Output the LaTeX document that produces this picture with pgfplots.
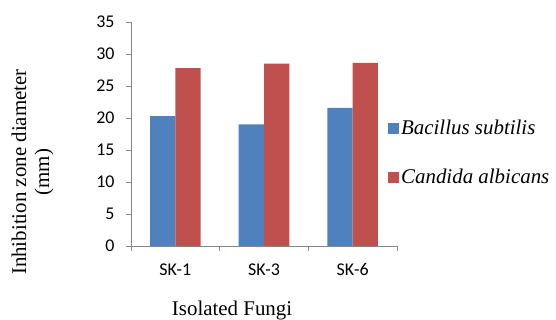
\documentclass[border=0pt]{standalone}
\usepackage{pgfplots}
\pgfplotsset{compat=1.18}
\usepackage{fontspec}
\IfFontExistsTF{Liberation Serif}{\def\diag{black}}{\def\diag{red}}
\setmainfont{Liberation Serif}
\newfontfamily\tnr{Liberation Serif}
\newfontfamily\carlito{Carlito}
\definecolor{cblue}{HTML}{4F81BD}
\definecolor{cred}{HTML}{C0504D}
\definecolor{axgray}{HTML}{868686}
\begin{document}
\begin{tikzpicture}
\path[use as bounding box] (0,0) rectangle (556bp,320bp);
\begin{axis}[
  at={(131bp,74bp)}, anchor=south west,
  scale only axis, width=266bp, height=224bp,
  xmin=-0.5, xmax=2.5, ymin=0, ymax=35,
  axis lines*=left,
  axis line style={draw=axgray, line width=0.9pt},
  every tick/.style={draw=axgray, line width=0.9pt},
  tick align=outside, major tick length=5bp,
  ytick={0,5,...,35},
  xtick={-0.5,0.5,1.5,2.5}, xticklabels={},
  extra x ticks={0,1,2}, extra x tick labels={SK-1,SK-3,SK-6},
  extra x tick style={major tick length=0pt},
  /pgf/number format/assume math mode=true,
  tick label style={font=\carlito\fontsize{18}{20}\selectfont},
  yticklabel style={xshift=-8bp},
  xticklabel style={yshift=-14bp},
  ybar=0pt, bar width=0.285,
  xlabel={\tnr Isolated Fungi},
  ylabel={\tnr Inhibition zone diameter\\\tnr (mm)},
  label style={font=\tnr\fontsize{21}{23}\selectfont, text=\diag},
  xlabel style={at={(rel axis cs:0.38,-0.286)}, anchor=center},
  ylabel style={at={(rel axis cs:-0.37,0.33)}, anchor=center, align=center},
  legend style={draw=none, fill=none, at={(rel axis cs:0.966,0.417)}, anchor=west,
    font=\tnr\itshape\fontsize{21}{23}\selectfont, row sep=29bp, inner xsep=0pt},
  legend cell align=left,
  legend image code/.code={\fill[#1] (0bp,-5.5bp) rectangle (11bp,5.5bp);},
]
\addplot[fill=cblue, draw=none] coordinates {(0,20.3) (1,19.0) (2,21.6)};
\addplot[fill=cred, draw=none] coordinates {(0,27.8) (1,28.5) (2,28.6)};
\legend{Bacillus subtilis, Candida albicans}
\end{axis}
\end{tikzpicture}
\end{document}
